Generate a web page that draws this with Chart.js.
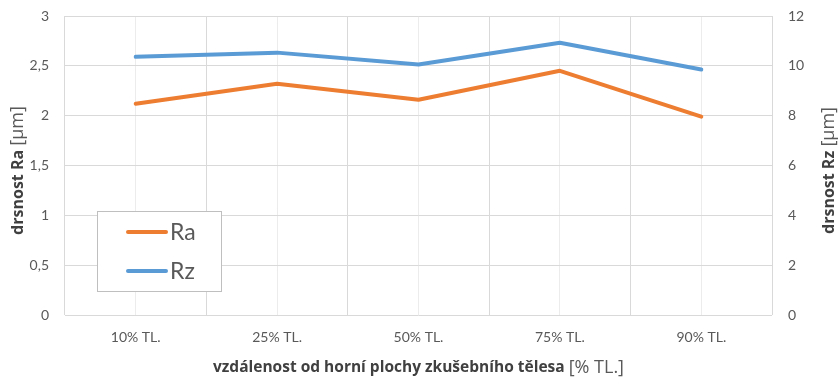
<!DOCTYPE html>
<html>
<head>
<meta charset="utf-8">
<script src="https://cdn.jsdelivr.net/npm/chart.js@4/dist/chart.umd.min.js"></script>
<style>
  html, body { margin: 0; padding: 0; background: #fff; }
  #wrap { width: 838px; height: 381px; position: relative; }
</style>
</head>
<body>
<div id="wrap"><canvas id="c" width="838" height="381"></canvas></div>
<script>
// Measurement positions through the specimen height
const categories = ['10% TL.', '25% TL.', '50% TL.', '75% TL.', '90% TL.'];
// Roughness Ra [µm] (left axis)
const raValues = [2.12, 2.32, 2.16, 2.45, 1.99];
// Roughness Rz [µm] (right axis)
const rzValues = [10.36, 10.53, 10.05, 10.93, 9.85];

const seriesNames = ['Ra', 'Rz'];
const leftTitle = ['drsnost Ra', '[µm]'];
const rightTitle = ['drsnost Rz', '[µm]'];
const bottomTitle = ['vzdálenost od horní plochy zkušebního tělesa', '[% TL.]'];

const FONT = 'Lato, "Open Sans", sans-serif';
const TITLE_FONT = '"Open Sans", Lato, sans-serif';
const TEXT = '#595959';
const TITLE = '#404040';

function fmt(v) { return String(v).replace('.', ','); }

// Draws a title made of a bold part followed by a regular (unit) part, centred on (0,0)
function drawMixed(ctx, parts, boldSize, regSize) {
  const bold = 'bold ' + boldSize + 'px ' + TITLE_FONT;
  const reg = regSize + 'px ' + TITLE_FONT;
  ctx.font = bold;
  const w1 = ctx.measureText(parts[0] + ' ').width;
  ctx.font = reg;
  const w2 = ctx.measureText(parts[1]).width;
  const x = -(w1 + w2) / 2;
  ctx.textAlign = 'left';
  ctx.textBaseline = 'middle';
  ctx.fillStyle = TITLE;
  ctx.font = bold;
  ctx.fillText(parts[0] + ' ', x, 0);
  ctx.font = reg;
  ctx.fillStyle = TEXT;
  ctx.fillText(parts[1], x + w1, 0);
}

const decor = {
  id: 'decor',
  afterDatasetsDraw(chart) {
    const ctx = chart.ctx;
    const a = chart.chartArea;
    const midY = (a.top + a.bottom) / 2;

    // axis titles
    ctx.save();
    ctx.translate(18, midY + 5);
    ctx.rotate(-Math.PI / 2);
    drawMixed(ctx, leftTitle, 16, 18);
    ctx.restore();

    ctx.save();
    ctx.translate(829, midY + 5);
    ctx.rotate(-Math.PI / 2);
    drawMixed(ctx, rightTitle, 16, 18);
    ctx.restore();

    ctx.save();
    ctx.translate((a.left + a.right) / 2, 368);
    drawMixed(ctx, bottomTitle, 15.5, 18);
    ctx.restore();

    // legend box inside the plot
    const bx = 97, by = 211, bw = 124, bh = 80;
    ctx.save();
    ctx.fillStyle = '#ffffff';
    ctx.fillRect(bx, by, bw, bh);
    ctx.strokeStyle = '#bfbfbf';
    ctx.lineWidth = 1;
    ctx.strokeRect(bx + 0.5, by + 0.5, bw, bh);
    chart.data.datasets.forEach((ds, i) => {
      const y = by + 21 + i * 39;
      ctx.strokeStyle = ds.borderColor;
      ctx.lineWidth = 4;
      ctx.lineCap = 'round';
      ctx.beginPath();
      ctx.moveTo(128, y);
      ctx.lineTo(166, y);
      ctx.stroke();
      ctx.fillStyle = TEXT;
      ctx.font = '23px ' + FONT;
      ctx.textAlign = 'left';
      ctx.textBaseline = 'middle';
      ctx.fillText(ds.label, 170, y + 1);
    });
    ctx.restore();
  }
};

new Chart(document.getElementById('c'), {
  type: 'line',
  data: {
    labels: categories,
    datasets: [
      {
        label: seriesNames[0],
        data: raValues,
        yAxisID: 'yL',
        borderColor: '#ED7D31',
        backgroundColor: '#ED7D31',
        borderWidth: 4,
        pointRadius: 0,
        borderCapStyle: 'round',
        borderJoinStyle: 'round',
        tension: 0
      },
      {
        label: seriesNames[1],
        data: rzValues,
        yAxisID: 'yR',
        borderColor: '#5B9BD5',
        backgroundColor: '#5B9BD5',
        borderWidth: 4,
        pointRadius: 0,
        borderCapStyle: 'round',
        borderJoinStyle: 'round',
        tension: 0
      }
    ]
  },
  options: {
    responsive: false,
    animation: false,
    layout: { padding: { top: 16, left: 0, right: 0, bottom: 0 } },
    plugins: { legend: { display: false }, tooltip: { enabled: false } },
    scales: {
      x: {
        type: 'category',
        offset: true,
        grid: { offset: true, color: '#d9d9d9', lineWidth: 1, drawTicks: false },
        border: { display: false },
        ticks: { color: TEXT, font: { family: FONT, size: 14 }, padding: 14, maxRotation: 0 },
        afterFit(s) { s.height = 66; s.paddingLeft = 0; s.paddingRight = 0; }
      },
      xc: {
        type: 'category',
        position: 'bottom',
        offset: true,
        grid: { offset: false, color: '#ececec', lineWidth: 1, drawTicks: false, z: -1 },
        border: { display: false },
        ticks: { display: false },
        afterFit(s) { s.height = 0; s.paddingLeft = 0; s.paddingRight = 0; }
      },
      yL: {
        position: 'left',
        min: 0, max: 3,
        ticks: { stepSize: 0.5, color: TEXT, font: { family: FONT, size: 14 }, padding: 16, callback: v => fmt(v) },
        grid: { color: '#d9d9d9', lineWidth: 1, drawTicks: false },
        border: { display: false },
        afterFit(s) { s.width = 65; s.paddingTop = 0; s.paddingBottom = 0; }
      },
      yR: {
        position: 'right',
        min: 0, max: 12,
        ticks: { stepSize: 2, color: TEXT, font: { family: FONT, size: 14 }, padding: 16, callback: v => fmt(v) },
        grid: { display: false, drawTicks: false },
        border: { display: false },
        afterFit(s) { s.width = 66; s.paddingTop = 0; s.paddingBottom = 0; }
      }
    }
  },
  plugins: [decor]
});
</script>
</body>
</html>
